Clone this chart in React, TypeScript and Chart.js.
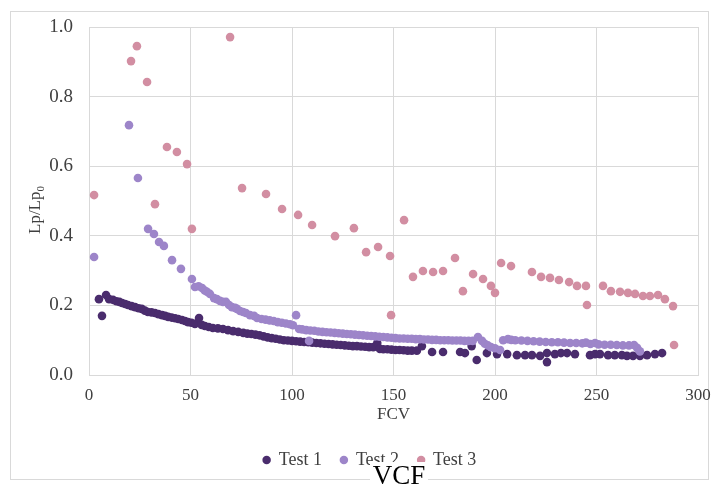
import { useEffect, useRef } from "react";
import { Chart, registerables } from "chart.js";

Chart.register(...registerables);

const seriesNames = ["Test 1", "Test 2", "Test 3"];
const seriesColors = ["#4a2c6d", "#9d85c9", "#d28ea2"];

const test1X = [4.9, 6.4, 8.4, 9.9, 11.8, 13.5, 15, 16.3, 17.8, 19.2, 21, 22.7, 24.4, 26, 27.5, 29, 30.8, 32.5, 34.2, 36, 37.5, 39, 40.7, 42.4, 44, 45.8, 47.3, 48.8, 50.5, 52.2, 54.2, 55.5, 57.1, 59, 61, 63.5, 66, 68.5, 71, 73.5, 76, 78, 80, 82, 84, 86, 88, 90, 92, 94, 96, 98, 100, 102, 104, 106, 108, 110, 112, 114, 116, 118, 120, 122, 124, 126, 128, 130, 132, 134, 136, 138, 140, 142, 143.3, 145, 147, 149, 151, 153, 155, 157, 159, 161.5, 164, 169, 174.4, 182.8, 185.2, 188.5, 191, 196, 201, 206, 210.8, 214.8, 218.2, 222.2, 225.6, 225.6, 229.5, 232.5, 235.5, 239.4, 246.8, 249.3, 251.7, 255.7, 259, 262.5, 265, 268, 271.4, 274.9, 278.8, 282.3];
const test1Y = [0.218, 0.17, 0.23, 0.218, 0.216, 0.212, 0.21, 0.207, 0.204, 0.201, 0.198, 0.195, 0.192, 0.19, 0.185, 0.181, 0.18, 0.178, 0.175, 0.172, 0.17, 0.167, 0.165, 0.163, 0.161, 0.158, 0.155, 0.152, 0.15, 0.147, 0.164, 0.144, 0.141, 0.138, 0.135, 0.134, 0.132, 0.129, 0.126, 0.124, 0.121, 0.119, 0.118, 0.116, 0.114, 0.111, 0.108, 0.106, 0.104, 0.102, 0.1, 0.099, 0.098, 0.097, 0.096, 0.095, 0.094, 0.093, 0.092, 0.091, 0.09, 0.089, 0.088, 0.087, 0.086, 0.085, 0.084, 0.083, 0.083, 0.082, 0.081, 0.08, 0.08, 0.092, 0.075, 0.074, 0.074, 0.073, 0.072, 0.072, 0.071, 0.07, 0.07, 0.07, 0.083, 0.066, 0.066, 0.066, 0.063, 0.083, 0.043, 0.063, 0.06, 0.06, 0.057, 0.057, 0.057, 0.055, 0.063, 0.037, 0.06, 0.063, 0.063, 0.06, 0.057, 0.06, 0.06, 0.057, 0.057, 0.057, 0.055, 0.055, 0.055, 0.057, 0.06, 0.063];

const test2X = [2.5, 19.7, 24.1, 29.1, 32, 34.5, 36.9, 40.9, 45.3, 50.7, 52.2, 54, 55.7, 57, 58.1, 59.6, 61.6, 63, 64.5, 66, 67.5, 69, 70.4, 72, 72.9, 74.4, 75.9, 77.3, 79.3, 81.3, 82.8, 85, 87, 89, 91, 93, 95, 97, 99, 100.5, 102, 103.5, 105, 107, 108.4, 109, 111, 113, 115, 117, 119, 121, 123, 125, 127, 129, 131, 133, 135, 137, 139, 141, 143, 145, 147, 149, 151, 153, 155, 157, 159, 161, 163, 165, 167, 169, 171, 173, 175, 177, 179, 181, 183, 185, 187, 189, 191.6, 193.6, 195, 196.5, 198, 200, 202.5, 204, 206.4, 208, 210, 213, 216, 219, 222, 225, 228, 231, 234, 237, 240, 243, 244.8, 247, 249.3, 251, 254, 257, 260, 263, 266, 268.5, 270, 271.4];
const test2Y = [0.339, 0.718, 0.566, 0.42, 0.405, 0.382, 0.371, 0.33, 0.305, 0.276, 0.253, 0.255, 0.25, 0.243, 0.239, 0.233, 0.221, 0.218, 0.213, 0.21, 0.21, 0.201, 0.195, 0.193, 0.19, 0.184, 0.181, 0.178, 0.172, 0.17, 0.164, 0.161, 0.159, 0.157, 0.155, 0.152, 0.15, 0.148, 0.146, 0.143, 0.172, 0.132, 0.131, 0.129, 0.098, 0.128, 0.127, 0.125, 0.124, 0.123, 0.122, 0.121, 0.12, 0.119, 0.118, 0.117, 0.116, 0.115, 0.114, 0.113, 0.112, 0.111, 0.11, 0.109, 0.108, 0.107, 0.106, 0.105, 0.105, 0.104, 0.104, 0.103, 0.103, 0.102, 0.102, 0.101, 0.101, 0.1, 0.1, 0.1, 0.099, 0.099, 0.099, 0.098, 0.098, 0.098, 0.109, 0.098, 0.09, 0.085, 0.08, 0.077, 0.072, 0.1, 0.103, 0.101, 0.1, 0.099, 0.098, 0.097, 0.096, 0.095, 0.094, 0.094, 0.093, 0.092, 0.092, 0.091, 0.093, 0.089, 0.092, 0.088, 0.087, 0.087, 0.086, 0.085, 0.085, 0.086, 0.078, 0.068];

const test3X = [2.5, 20.7, 23.6, 28.6, 32.5, 38.4, 43.3, 48.3, 50.7, 69.5, 75.4, 87.2, 95.1, 103, 109.9, 121.2, 130.5, 136.5, 142.4, 148.3, 148.8, 155.2, 159.6, 164.5, 169.5, 174.4, 180.3, 184.2, 189.2, 194.1, 198, 200, 203, 207.9, 218.2, 222.7, 227.1, 231.5, 236.5, 240.4, 244.8, 245.3, 253.2, 257.1, 261.6, 265.5, 269, 272.9, 276.3, 280.3, 283.7, 287.7, 288.2];
const test3Y = [0.517, 0.902, 0.945, 0.842, 0.491, 0.655, 0.641, 0.606, 0.42, 0.971, 0.537, 0.52, 0.477, 0.46, 0.431, 0.399, 0.422, 0.353, 0.368, 0.342, 0.172, 0.445, 0.282, 0.299, 0.296, 0.299, 0.336, 0.241, 0.29, 0.276, 0.256, 0.236, 0.322, 0.313, 0.296, 0.282, 0.279, 0.273, 0.267, 0.256, 0.256, 0.201, 0.256, 0.241, 0.239, 0.236, 0.233, 0.227, 0.227, 0.23, 0.218, 0.198, 0.086];

const xAxisTitle = "FCV";
const yAxisTitleMain = "Lp/Lp";
const yAxisTitleSub = "0";
const captionText = "VCF";

const FONT = '"Liberation Serif", "Times New Roman", serif';
const TEXT = "#404040";
const GRID = "#d9d9d9";

function toPoints(xs: number[], ys: number[]) {
  const n = Math.min(xs.length, ys.length);
  const out: { x: number; y: number }[] = [];
  for (let i = 0; i < n; i++) out.push({ x: xs[i], y: ys[i] });
  return out;
}

const yTitlePlugin = {
  id: "yTitleCustom",
  afterDraw(chart: any) {
    const ctx = chart.ctx as CanvasRenderingContext2D;
    ctx.save();
    ctx.translate(40, 210);
    ctx.rotate(-Math.PI / 2);
    ctx.fillStyle = TEXT;
    ctx.textBaseline = "alphabetic";
    ctx.textAlign = "left";
    const big = "17px " + FONT;
    const small = "11px " + FONT;
    ctx.font = big;
    const w1 = ctx.measureText(yAxisTitleMain).width;
    ctx.font = small;
    const w2 = ctx.measureText(yAxisTitleSub).width;
    const start = -(w1 + w2) / 2;
    ctx.font = big;
    ctx.fillText(yAxisTitleMain, start, 0);
    ctx.font = small;
    ctx.fillText(yAxisTitleSub, start + w1, 4);
    ctx.restore();
  },
};

export default function App() {
  const canvasRef = useRef<HTMLCanvasElement | null>(null);

  useEffect(() => {
    if (!canvasRef.current) return;
    const xs = [test1X, test2X, test3X];
    const ys = [test1Y, test2Y, test3Y];
    const chart = new Chart(canvasRef.current, {
      type: "scatter",
      data: {
        datasets: seriesNames.map((name, i) => ({
          label: name,
          data: toPoints(xs[i], ys[i]),
          backgroundColor: seriesColors[i],
          borderColor: seriesColors[i],
          pointRadius: 4.3,
          pointBorderWidth: 0,
          pointStyle: "circle",
          order: 3 - i,
        })),
      },
      options: {
        responsive: false,
        animation: false,
        devicePixelRatio: 1,
        layout: { padding: { left: 42, right: 17, top: 27, bottom: 7 } },
        plugins: {
          tooltip: { enabled: false },
          legend: {
            position: "bottom",
            labels: {
              usePointStyle: true,
              pointStyle: "circle",
              boxWidth: 6,
              boxHeight: 6,
              padding: 19,
              color: TEXT,
              font: { family: FONT, size: 18 },
              sort: (a: any, b: any) => a.datasetIndex - b.datasetIndex,
            },
          },
        },
        scales: {
          x: {
            type: "linear",
            min: 0,
            max: 300,
            afterFit: (s: any) => {
              s.height = 57;
              s.paddingLeft = 0;
              s.paddingRight = 0;
            },
            ticks: {
              stepSize: 50,
              padding: 10,
              color: TEXT,
              font: { family: FONT, size: 17 },
              maxRotation: 0,
            },
            grid: { color: GRID, drawTicks: false, lineWidth: 1 },
            border: { color: GRID },
            title: {
              display: true,
              text: xAxisTitle,
              color: TEXT,
              font: { family: FONT, size: 17 },
              padding: { top: 0, bottom: 7 },
            },
          },
          y: {
            type: "linear",
            min: 0,
            max: 1,
            afterFit: (s: any) => {
              s.width = 47;
              s.paddingTop = 0;
              s.paddingBottom = 0;
            },
            ticks: {
              stepSize: 0.2,
              padding: 16,
              color: TEXT,
              font: { family: FONT, size: 19 },
              callback: (v: any) => Number(v).toFixed(1),
            },
            grid: { color: GRID, drawTicks: false, lineWidth: 1 },
            border: { color: GRID },
          },
        },
      },
      plugins: [yTitlePlugin],
    });
    return () => chart.destroy();
  }, []);

  return (
    <div style={{ position: "absolute", left: 0, top: 0, width: 715, height: 486, background: "#fff", overflow: "hidden" }}>
      <div
        style={{
          position: "absolute",
          left: 10,
          top: 11,
          width: 697,
          height: 467,
          border: "1px solid #d9d9d9",
        }}
      />
      <canvas ref={canvasRef} width={715} height={486} style={{ position: "absolute", left: 0, top: 0, width: 715, height: 486 }} />
      <div
        style={{
          position: "absolute",
          left: 370,
          top: 462,
          width: 58,
          height: 30,
          background: "#fff",
          fontFamily: FONT,
          fontSize: 27,
          lineHeight: "27px",
          color: "#000",
          textAlign: "center",
        }}
      >
        {captionText}
      </div>
    </div>
  );
}
